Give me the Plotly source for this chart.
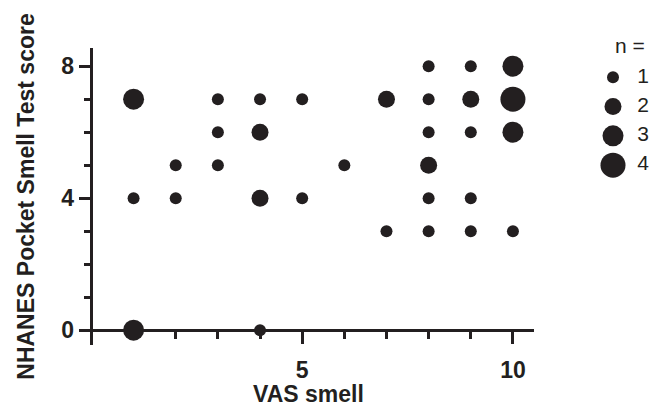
import plotly.graph_objects as go

# ---- data ----
vas_smell = [1, 1, 1, 2, 2, 3, 3, 3, 4, 4, 4, 4, 5, 5, 6, 7, 7,
             8, 8, 8, 8, 8, 8, 9, 9, 9, 9, 9, 10, 10, 10, 10]
pst_score = [7, 4, 0, 5, 4, 7, 6, 5, 7, 6, 4, 0, 7, 4, 5, 7, 3,
             8, 7, 6, 5, 4, 3, 8, 7, 6, 4, 3, 8, 7, 6, 3]
count_n = [3, 1, 3, 1, 1, 1, 1, 1, 1, 2, 2, 1, 1, 1, 1, 2, 1,
           1, 1, 1, 2, 1, 1, 1, 2, 1, 1, 1, 3, 4, 3, 1]
legend_n = [1, 2, 3, 4]

x_ticks = [0, 5, 10]
x_ticktext = ["", "5", "10"]
x_minor = [1, 2, 3, 4, 6, 7, 8, 9]
y_ticks = [0, 4, 8]
y_ticktext = ["0", "4", "8"]
y_minor = [1, 2, 3, 5, 6, 7]

# ---- style ----
INK = "#231f20"
FONT = "Liberation Sans, Arial, sans-serif"
size_px = {1: 12, 2: 17, 3: 21, 4: 25}

OFF = 8  # page body margin
W, H = 664 - OFF, 407 - OFF
ML, MT = 83 - OFF, 48 - OFF
MR = 10
MB = H - (345 - OFF)
plot_w = W - ML - MR

x_range = [-0.2, 10.5]
y_range = [-0.45, 8.55]
x_dom_end = (534 - OFF - ML) / plot_w
y_axis_pos = x_dom_end * (0 - x_range[0]) / (x_range[1] - x_range[0])
x_axis_pos = (0 - y_range[0]) / (y_range[1] - y_range[0])

fig = go.Figure()

fig.add_trace(go.Scatter(
    x=vas_smell, y=pst_score, mode="markers",
    marker=dict(size=[size_px[n] for n in count_n], color=INK, opacity=1,
                line=dict(width=0)),
    cliponaxis=False, showlegend=False, hoverinfo="skip",
))

# size key
leg_idx = list(range(len(legend_n)))
fig.add_trace(go.Scatter(
    x=[20] * len(legend_n), y=leg_idx, mode="markers",
    marker=dict(size=[size_px[n] for n in legend_n], color=INK, opacity=1,
                line=dict(width=0)),
    xaxis="x2", yaxis="y2", cliponaxis=False, showlegend=False, hoverinfo="skip",
))
fig.add_trace(go.Scatter(
    x=[50] * len(legend_n), y=leg_idx, mode="text",
    text=[str(n) for n in legend_n], textposition="middle center",
    textfont=dict(family=FONT, size=21, color=INK),
    xaxis="x2", yaxis="y2", cliponaxis=False, showlegend=False, hoverinfo="skip",
))
fig.add_trace(go.Scatter(
    x=[37], y=[-1], mode="text", text=["n ="], textposition="middle center",
    textfont=dict(family=FONT, size=21, color=INK),
    xaxis="x2", yaxis="y2", cliponaxis=False, showlegend=False, hoverinfo="skip",
))

axis_common = dict(
    showgrid=False, zeroline=False, showline=True, linecolor=INK, linewidth=2.5,
    ticks="outside", ticklen=12, tickwidth=2.5, tickcolor=INK,
    tickfont=dict(family=FONT, size=23, color=INK, weight="bold"),
    automargin=False,
)

fig.update_layout(
    width=W, height=H,
    margin=dict(l=ML, r=MR, t=MT, b=MB),
    paper_bgcolor="white", plot_bgcolor="white",
    font=dict(family=FONT, color=INK),
    xaxis=dict(
        **axis_common, domain=[0, x_dom_end], range=x_range,
        anchor="free", position=x_axis_pos, ticklabelstandoff=6,
        tickmode="array", tickvals=x_ticks, ticktext=x_ticktext,
        minor=dict(tickmode="array", tickvals=x_minor, ticks="outside",
                   ticklen=7, tickwidth=2.5, tickcolor=INK),
        title=dict(text="VAS smell",
                   font=dict(family=FONT, size=23, color=INK, weight="bold"),
                   standoff=11),
    ),
    yaxis=dict(
        **axis_common, domain=[0, 1], range=y_range,
        anchor="free", position=y_axis_pos,
        tickmode="array", tickvals=y_ticks, ticktext=y_ticktext,
        minor=dict(tickmode="array", tickvals=y_minor, ticks="outside",
                   ticklen=7, tickwidth=2.5, tickcolor=INK),
        title=dict(text="NHANES Pocket Smell Test score",
                   font=dict(family=FONT, size=23, color=INK, weight="bold"),
                   standoff=19),
    ),
    xaxis2=dict(domain=[(593 - OFF - ML) / plot_w, (653 - OFF - ML) / plot_w],
                range=[0, 60], visible=False, anchor="y2", fixedrange=True),
    yaxis2=dict(domain=[0, 1], range=[9.14, -1], visible=False, anchor="x2",
                fixedrange=True),
)

fig.write_html("out.html")
